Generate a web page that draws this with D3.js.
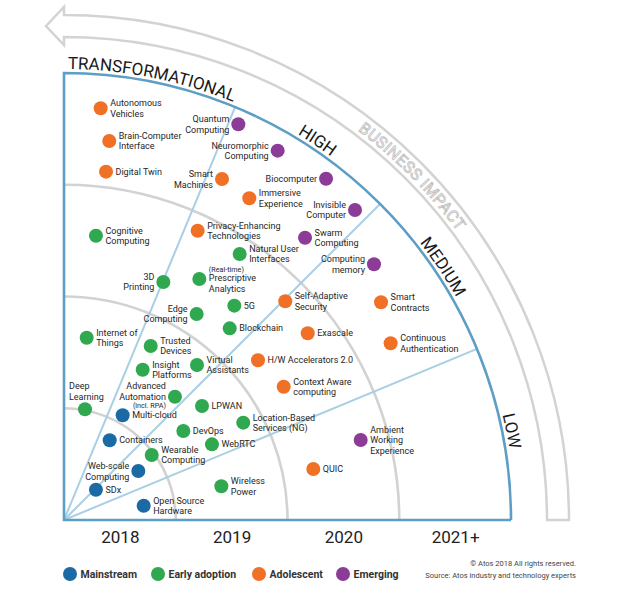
<!DOCTYPE html>
<html><head><meta charset="utf-8">
<script src="https://cdn.jsdelivr.net/npm/d3@7/dist/d3.min.js"></script>
<style>
html,body{margin:0;padding:0;background:#fff;}
svg{display:block;font-family:Roboto,"Open Sans",sans-serif;}
</style></head>
<body><svg id="chart" width="622" height="594"></svg>
<script>
// ---------------- DATA ----------------
const yearLabels = ["2018", "2019", "2020", "2021+"];
const impactLabels = ["LOW", "MEDIUM", "HIGH", "TRANSFORMATIONAL"];
const stageNames = ["Mainstream", "Early adoption", "Adolescent", "Emerging"];

const techNames = [
  "Autonomous\nVehicles", "Brain-Computer\nInterface", "Digital Twin", "Quantum\nComputing",
  "Neuromorphic\nComputing", "Smart\nMachines", "Biocomputer", "Immersive\nExperience",
  "Invisible\nComputer", "Cognitive\nComputing", "Privacy-Enhancing\nTechnologies", "Swarm\nComputing",
  "Natural User\nInterfaces", "Computing\nmemory", "(Real-time)\nPrescriptive\nAnalytics", "3D\nPrinting",
  "5G", "Edge\nComputing", "Self-Adaptive\nSecurity", "Smart\nContracts",
  "Blockchain", "Exascale", "Continuous\nAuthentication", "Internet of\nThings",
  "Trusted\nDevices", "Virtual\nAssistants", "H/W Accelerators 2.0", "Insight\nPlatforms",
  "Context Aware\ncomputing", "Deep\nLearning", "Advanced\nAutomation\n(incl. RPA)", "LPWAN",
  "Multi-cloud", "Location-Based\nServices (NG)", "DevOps", "Ambient\nWorking\nExperience",
  "Containers", "WebRTC", "Wearable\nComputing", "QUIC",
  "Web-scale\nComputing", "SDx", "Wireless\nPower", "Open Source\nHardware"
];
// horizontal position in "year rings" (0 = origin, 4 = outer edge)
const techYear = [
  0.328, 0.405, 0.376, 1.560,
  1.912, 1.414, 2.345, 1.658,
  2.604, 0.286, 1.196, 2.157,
  1.572, 2.774, 1.211, 0.889,
  1.524, 1.187, 1.980, 2.837,
  1.483, 2.181, 2.923, 0.203,
  0.776, 1.190, 1.736, 0.704,
  1.966, 0.188, 0.993, 1.235,
  0.525, 1.604, 1.068, 2.655,
  0.409, 1.324, 0.785, 2.231,
  0.665, 0.286, 1.408, 0.713
];
// vertical position in "impact rings"
const techImpact = [
  3.684, 3.392, 3.117, 3.541,
  3.305, 3.051, 3.054, 2.879,
  2.774, 2.544, 2.589, 2.526,
  2.380, 2.288, 2.157, 2.130,
  1.918, 1.843, 1.957, 1.948,
  1.715, 1.671, 1.581, 1.631,
  1.557, 1.387, 1.429, 1.345,
  1.193, 0.991, 1.103, 1.020,
  0.937, 0.871, 0.796, 0.716,
  0.713, 0.677, 0.582, 0.456,
  0.438, 0.271, 0.302, 0.128
];
const techStage = [
  "Adolescent", "Adolescent", "Adolescent", "Emerging",
  "Emerging", "Adolescent", "Emerging", "Adolescent",
  "Emerging", "Early adoption", "Adolescent", "Emerging",
  "Early adoption", "Emerging", "Early adoption", "Early adoption",
  "Early adoption", "Early adoption", "Adolescent", "Adolescent",
  "Early adoption", "Adolescent", "Adolescent", "Early adoption",
  "Early adoption", "Early adoption", "Adolescent", "Early adoption",
  "Adolescent", "Early adoption", "Early adoption", "Early adoption",
  "Mainstream", "Early adoption", "Early adoption", "Emerging",
  "Mainstream", "Early adoption", "Early adoption", "Adolescent",
  "Mainstream", "Mainstream", "Early adoption", "Mainstream"
];

// ---------------- LAYOUT / STYLE ----------------
const stageColor = d3.scaleOrdinal().domain(stageNames)
  .range(["#1b6aa5", "#2fa84f", "#f07025", "#8c3b97"]);
const leftLabels = new Set(["Quantum\nComputing","Neuromorphic\nComputing","Smart\nMachines","Biocomputer",
  "Invisible\nComputer","Computing\nmemory","3D\nPrinting","Edge\nComputing",
  "Advanced\nAutomation\n(incl. RPA)","Web-scale\nComputing"]);
const aboveLabels = new Set(["Deep\nLearning"]);
const LINE = 10.6, SMALL_GAP = 8.4;

const cx = 64, cy = 520, R = 447;
const svg = d3.select("#chart");
const x = d3.scaleLinear().domain([0, 4]).range([cx, cx + R]);
const y = d3.scaleLinear().domain([0, 4]).range([cy, cy - R]);
const r = d3.scaleLinear().domain([0, 4]).range([0, R]);
const deg = Math.PI / 180;

// outer "business impact" arrow band
const rIn = 483, rOut = 505;
const band = d3.path();
band.moveTo(cx - 18, cy - (rIn + rOut) / 2);
band.lineTo(cx, cy - rOut - 8);
band.lineTo(cx, cy - rOut);
band.arc(cx, cy, rOut, -Math.PI / 2, 0, false);
band.lineTo(cx + rIn, cy);
band.arc(cx, cy, rIn, 0, -Math.PI / 2, true);
band.lineTo(cx, cy - rIn + 8);
band.closePath();
svg.append("path").attr("d", band.toString()).attr("fill", "none")
  .attr("stroke", "#d3d3d3").attr("stroke-width", 2.5).attr("stroke-linejoin", "miter");

const defs = svg.append("defs");
function arcPathD(rad, a1, a0) { // math angles in degrees, a1 > a0, clockwise on screen
  const p = d3.path();
  p.moveTo(cx + rad * Math.cos(a1 * deg), cy - rad * Math.sin(a1 * deg));
  p.arc(cx, cy, rad, -a1 * deg, -a0 * deg, false);
  return p.toString();
}
defs.append("path").attr("id", "bizArc").attr("d", arcPathD(488, 85, 5));
svg.append("text").attr("font-size", 16).attr("fill", "#fff").attr("stroke", "#c2c2c2")
  .attr("stroke-width", 0.9).attr("letter-spacing", 0.5)
  .append("textPath").attr("href", "#bizArc").attr("startOffset", "50.5%").attr("text-anchor", "middle")
  .text("BUSINESS IMPACT");

// grey year rings
[1, 2, 3].forEach(k => {
  const p = d3.path();
  p.moveTo(cx, cy - r(k));
  p.arc(cx, cy, r(k), -Math.PI / 2, 0, false);
  svg.append("path").attr("d", p.toString()).attr("fill", "none")
    .attr("stroke", "#d2d2d2").attr("stroke-width", 2.6);
});

// impact sector dividers
[22.5, 45, 67.5].forEach(a => {
  svg.append("line").attr("x1", cx).attr("y1", cy)
    .attr("x2", cx + R * Math.cos(a * deg)).attr("y2", cy - R * Math.sin(a * deg))
    .attr("stroke", "#a9cfe3").attr("stroke-width", 2);
});

// blue frame
const frame = d3.path();
frame.moveTo(cx + R, cy);
frame.lineTo(cx, cy);
frame.lineTo(cx, cy - R);
frame.arc(cx, cy, R, -Math.PI / 2, 0, false);
svg.append("path").attr("d", frame.toString()).attr("fill", "none")
  .attr("stroke", "#5d9ec6").attr("stroke-width", 2.6);

// impact labels along arc
impactLabels.forEach((lab, i) => {
  const a0 = i * 22.5, a1 = a0 + 22.5;
  defs.append("path").attr("id", "imp" + i).attr("d", arcPathD(451, a1 + 10, a0 - 10));
  svg.append("text").attr("font-size", 17).attr("fill", "#1a1a1a")
    .append("textPath").attr("href", "#imp" + i).attr("startOffset", "50%")
    .attr("text-anchor", "middle").text(lab);
});

// year axis
const xAxis = d3.axisBottom(x).tickValues([0.5, 1.5, 2.5, 3.5])
  .tickFormat((d, i) => yearLabels[i]).tickSize(0).tickPadding(0);
const ax = svg.append("g").attr("transform", `translate(0,${cy + 11})`).call(xAxis);
ax.select(".domain").remove();
ax.selectAll("text").attr("font-size", 17).attr("fill", "#222")
  .attr("font-family", "Roboto, sans-serif").attr("dy", "0.71em");

// dots + labels
const items = techNames.map((n, i) => ({ name: n, yr: techYear[i], imp: techImpact[i], stage: techStage[i] }));
const g = svg.append("g");
g.selectAll("circle").data(items).join("circle")
  .attr("cx", d => x(d.yr)).attr("cy", d => y(d.imp)).attr("r", 7)
  .attr("fill", d => stageColor(d.stage));

items.forEach(d => {
  const lines = d.name.split("\n");
  const isSmall = lines.map(l => l.startsWith("("));
  // relative line offsets
  const offs = [0];
  for (let j = 1; j < lines.length; j++) {
    offs.push(offs[j - 1] + ((isSmall[j] || isSmall[j - 1]) ? SMALL_GAP : LINE));
  }
  const span = offs[offs.length - 1];
  const px = x(d.yr), py = y(d.imp);
  let tx, anchor, y0;
  if (aboveLabels.has(d.name)) { tx = px - 16; anchor = "start"; y0 = py - 23; }
  else if (leftLabels.has(d.name)) { tx = px - 9; anchor = "end"; y0 = py - span / 2 - (isSmall[lines.length - 1] ? 1 : 0); }
  else { tx = px + 9.5; anchor = "start"; y0 = py - span / 2; }
  const t = g.append("text").attr("text-anchor", anchor).attr("fill", "#262626").attr("font-size", 9);
  lines.forEach((ln, j) => {
    t.append("tspan").attr("x", tx).attr("y", y0 + offs[j]).attr("dy", "0.35em")
      .attr("font-size", isSmall[j] ? 7.2 : 9).text(ln);
  });
});

// legend
const legX = [70, 158, 259, 343];
const leg = svg.append("g");
stageNames.forEach((s, i) => {
  leg.append("circle").attr("cx", legX[i]).attr("cy", 574).attr("r", 7).attr("fill", stageColor(s));
  leg.append("text").attr("x", legX[i] + 10.5).attr("y", 574).attr("dy", "0.35em")
    .attr("font-size", 10.5).attr("font-weight", 700).attr("fill", "#333").text(s);
});
svg.append("text").attr("x", 576).attr("y", 563).attr("dy", "0.35em").attr("text-anchor", "end")
  .attr("font-size", 7.5).attr("fill", "#444").text("© Atos 2018 All rights reserved.");
svg.append("text").attr("x", 576).attr("y", 575).attr("dy", "0.35em").attr("text-anchor", "end")
  .attr("font-size", 7.5).attr("fill", "#444").text("Source: Atos industry and technology experts");
</script></body></html>
